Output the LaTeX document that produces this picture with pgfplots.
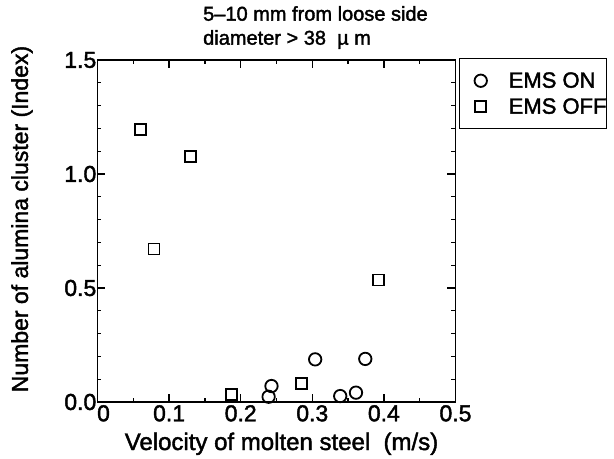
\documentclass[border=0pt]{standalone}
\usepackage{pgfplots}
\pgfplotsset{compat=1.18}
\usepackage{fontspec}
\setmainfont{Liberation Sans}[FakeBold=1.8]
\begin{document}
\begin{tikzpicture}
\useasboundingbox (-97.5bp,-57bp) rectangle (516.5bp,402bp);
\begin{axis}[
  at={(0,0)}, anchor=south west,
  scale only axis, width=358bp, height=342bp,
  xmin=0, xmax=0.5, ymin=0, ymax=1.5,
  clip=false,
  axis line style={line width=1.5bp},
  every tick/.style={line width=1.3bp, black},
  tick align=inside,
  major tick length=8bp, minor tick length=4bp,
  xtick={0,0.1,0.2,0.3,0.4,0.5},
  xticklabels={\hspace*{12bp}0,0.1,0.2,0.3,0.4,0.5},
  minor xtick={0.05,0.15,0.25,0.35,0.45},
  ytick={0,0.5,1.0,1.5},
  yticklabels={0.0,0.5,1.0,1.5},
  minor ytick={0.1,0.2,0.3,0.4,0.6,0.7,0.8,0.9,1.1,1.2,1.3,1.4},
  tick label style={font=\fontsize{23bp}{25bp}\selectfont},
  yticklabel style={inner xsep=1bp},
  xticklabel style={inner ysep=3bp},
  xlabel={Velocity of molten steel\ \ (m/s)},
  xlabel style={font=\fontsize{24bp}{26bp}\selectfont, at={(axis description cs:0.514,-0.1404)}, anchor=base},
  ylabel={Number of alumina cluster (Index)},
  ylabel style={font=\fontsize{23bp}{25bp}\selectfont, at={(axis description cs:-0.211,0.535)}, anchor=center},
  title={5--10 mm from loose side\\diameter > 38~~µ~m},
  title style={font=\fontsize{20bp}{24bp}\selectfont, align=left, at={(0,1)}, anchor=south west, inner sep=0pt, xshift=105.5bp, yshift=5bp},
  legend style={at={(1,1)}, anchor=north west, xshift=3.5bp, yshift=2bp, draw=black, line width=1.5bp,
    font=\fontsize{22bp}{24bp}\selectfont, inner xsep=0pt, inner ysep=9bp, row sep=0pt,
    nodes={inner sep=0pt}},
  legend cell align=left,
  legend image code/.code={\path[draw=none] (0bp,-13bp) rectangle (49bp,13bp); \draw[#1] plot coordinates {(21bp,0bp)};},
]
\addplot[only marks, mark=o, mark size=6.2bp, line width=1.8bp, black]
  coordinates {(0.243,0.070) (0.239,0.023) (0.304,0.187) (0.339,0.026) (0.361,0.041) (0.374,0.189)};
\addlegendentry{EMS ON\hspace{60bp}}
\addplot[only marks, mark=square, mark size=5.5bp, line width=1.8bp, black]
  coordinates {(0.060,1.196) (0.130,1.076) (0.079,0.671) (0.187,0.034) (0.285,0.082) (0.393,0.535)};
\addlegendentry{EMS OFF\hspace{60bp}}
\end{axis}
\end{tikzpicture}
\end{document}
